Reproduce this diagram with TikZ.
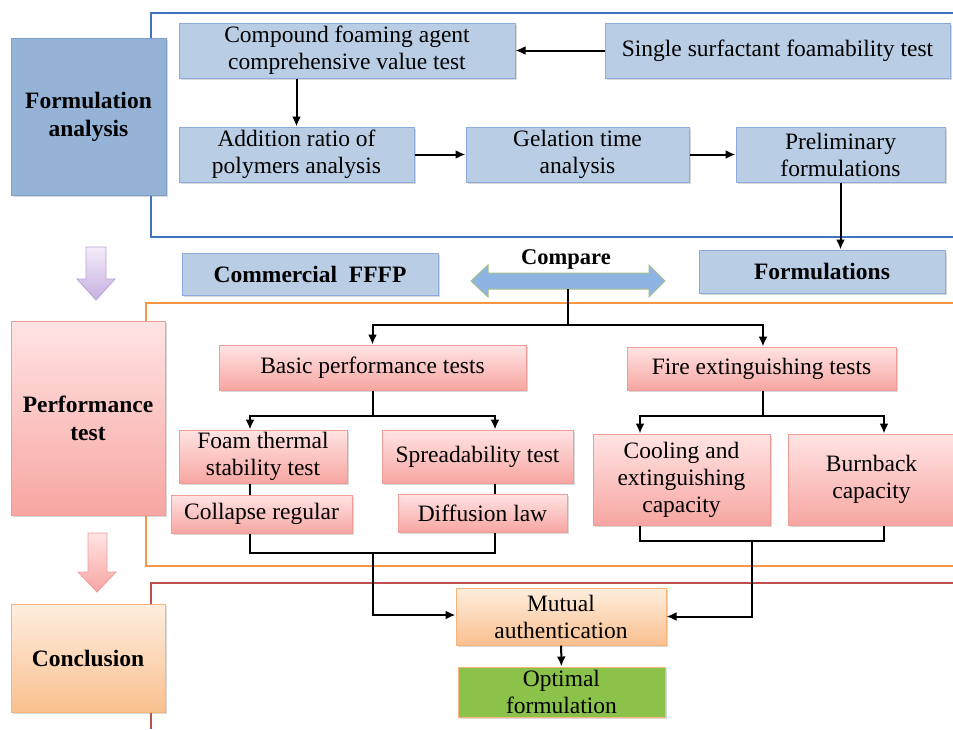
\documentclass[tikz,border=0pt]{standalone}
\usepackage{fontspec}
\setmainfont{Liberation Serif}
\newfontfamily\tnr{Liberation Serif}
\usetikzlibrary{arrows.meta,shadows}

\definecolor{boxblue}{HTML}{B9CDE5}
\definecolor{boxline}{HTML}{8EAADB}
\definecolor{stageblue}{HTML}{95B3D7}
\definecolor{stageline}{HTML}{7F9FCB}
\definecolor{pinktop}{HTML}{FFE4E3}
\definecolor{pinkbot}{HTML}{F7A6A2}
\definecolor{pinkline}{HTML}{EE9D99}
\definecolor{orangetop}{HTML}{FEEEDF}
\definecolor{orangebot}{HTML}{FAC08F}
\definecolor{orangeline}{HTML}{F7B57C}
\definecolor{optgreen}{HTML}{8AC24A}
\definecolor{frameblue}{HTML}{3F74C2}
\definecolor{frameorange}{HTML}{F79646}
\definecolor{framered}{HTML}{C0504D}
\definecolor{cmpfill}{HTML}{8DB4E2}
\definecolor{cmpline}{HTML}{A6BF88}
\definecolor{lilactop}{HTML}{F5ECFA}
\definecolor{lilacbot}{HTML}{C6B0E0}
\definecolor{lilacline}{HTML}{B8A2D6}

\begin{document}
\begin{tikzpicture}[x=1pt, y=-1pt]
    \tikzstyle{every node}=[align=center, inner sep=0pt, font=\tnr\fontsize{23.5}{27}\selectfont]
    \tikzstyle{shdw}=[drop shadow={shadow xshift=1.5pt, shadow yshift=-1.5pt, opacity=0.3}]
    \tikzstyle{bluebox}=[draw=boxline, fill=boxblue, line width=1pt, shdw]
    \tikzstyle{pinkbox}=[draw=pinkline, top color=pinktop, bottom color=pinkbot, line width=1pt, shdw]
    \tikzstyle{orangebox}=[draw=orangeline, top color=orangetop, bottom color=orangebot, line width=1pt, shdw]
    \tikzstyle{stage}=[font=\tnr\fontsize{23.5}{28}\selectfont\bfseries]
    \tikzstyle{arr}=[-{Latex[length=10pt,width=9pt]}, line width=2pt]
    \tikzstyle{ln}=[line width=2pt]
    \useasboundingbox (0,0) rectangle (953,729);

    % stage frames
    \draw[frameblue, line width=2.5pt] (953,13) -- (151,13) -- (151,237) -- (953,237);
    \draw[frameorange, line width=2pt] (953,303) -- (146,303) -- (146,566) -- (953,566);
    \draw[framered, line width=2pt] (953,583) -- (151,583) -- (151,729);

    % left column
    \node[stage, draw=stageline, fill=stageblue, line width=1pt, shdw, minimum width=155pt, minimum height=157pt] (fa) at (88.5,116.5) {Formulation\\analysis};
    \node[stage, pinkbox, minimum width=154pt, minimum height=194pt] (pt) at (88,418) {Performance\\test};
    \node[stage, orangebox, minimum width=154pt, minimum height=108pt] (cc) at (88,658) {Conclusion};
    \shade[top color=lilactop, bottom color=lilacbot, draw=lilacline, line width=0.8pt] (86,247) -- (106,247) -- (106,279) -- (115,279) -- (96,300) -- (77,279) -- (86,279) -- cycle;
    \shade[top color=pinktop, bottom color=pinkbot, draw=pinkline, line width=0.8pt] (88,533) -- (107,533) -- (107,572) -- (116,572) -- (97,592) -- (78,572) -- (88,572) -- cycle;

    % formulation analysis
    \node[bluebox, minimum width=336pt, minimum height=55pt] (cfa) at (347,50.5) {Compound foaming agent\\comprehensive value test};
    \node[bluebox, minimum width=345pt, minimum height=55pt] (ssf) at (777.5,50.5) {Single surfactant foamability test};
    \node[bluebox, minimum width=235pt, minimum height=55pt] (arp) at (296.5,154.5) {Addition ratio of\\polymers analysis};
    \node[bluebox, minimum width=223pt, minimum height=55pt] (gta) at (577.5,154.5) {Gelation time\\analysis};
    \node[bluebox, minimum width=209pt, minimum height=55pt] (pf) at (840.5,154.5) {Preliminary\\formulations};
    \node[bluebox, stage, minimum width=246pt, minimum height=43pt] (form) at (822,271.5) {Formulations};
    \node[bluebox, stage, minimum width=256pt, minimum height=42pt] (cffp) at (310,274) {Commercial\ \ FFFP};

    % compare arrow
    \filldraw[fill=cmpfill, draw=cmpline, line width=1pt] (471,281) -- (488,265) -- (488,273) -- (649,273) -- (649,265) -- (665,281) -- (649,297) -- (649,289) -- (488,289) -- (488,297) -- cycle;
    \node[stage, font=\tnr\fontsize{22.5}{26}\selectfont\bfseries] (cmpl) at (566,259) {Compare};
    \coordinate (cmp) at (568,289);
    \coordinate (fk) at (568,325);

    % performance test
    \node[pinkbox, minimum width=307pt, minimum height=45pt] (bpt) at (372.5,367.5) {Basic performance tests};
    \node[pinkbox, minimum width=269pt, minimum height=43pt] (fet) at (761.5,368.5) {Fire extinguishing tests};
    \node[pinkbox, minimum width=168pt, minimum height=53pt] (fts) at (263,456.5) {Foam thermal\\stability test};
    \node[pinkbox, minimum width=191pt, minimum height=53pt] (spr) at (477.5,456.5) {Spreadability test};
    \node[pinkbox, minimum width=181pt, minimum height=38pt] (clr) at (261.5,514) {Collapse regular};
    \node[pinkbox, minimum width=169pt, minimum height=38pt] (dfl) at (482.5,513) {Diffusion law};
    \node[pinkbox, minimum width=177pt, minimum height=91pt] (cec) at (681.5,479.5) {Cooling and\\extinguishing\\capacity};
    \node[pinkbox, minimum width=167pt, minimum height=91pt] (bbc) at (871.5,479.5) {Burnback\\capacity};

    % conclusion
    \node[orangebox, minimum width=210pt, minimum height=57pt] (mau) at (561,616.5) {Mutual\\authentication};
    \node[draw=orangeline, fill=optgreen, line width=1pt, shdw, minimum width=207pt, minimum height=50pt] (opt) at (561.5,692) {Optimal\\formulation};

    % connectors
    \draw[arr] (ssf) -- (cfa);
    \draw[arr] (arp|-cfa.south) -- (arp.north);
    \draw[arr] (arp) -- (gta);
    \draw[arr] (gta) -- (pf);
    \draw[arr] (pf.south) -- (pf.south|-form.north);
    \draw[ln] (cmp) -- (fk);
    \draw[arr] (fk) -| (bpt.north);
    \draw[arr] (fk) -| ([xshift=1.5pt]fet.north);
    \draw[arr] (bpt.south) -- ++(0,25) -| ([xshift=-13pt]fts.north);
    \draw[arr] (bpt.south) -- ++(0,25) -| ([xshift=17.5pt]spr.north);
    \draw[ln] ([xshift=-13pt]fts.south) -- ([xshift=-11.5pt]clr.north);
    \draw[ln] ([xshift=17.5pt]spr.south) -- ([xshift=12.5pt]dfl.north);
    \draw[ln] ([xshift=-11.5pt]clr.south) |- (373,553) -| ([xshift=12.5pt]dfl.south);
    \draw[arr] (373,553) -- (373,615) -- (mau.west|-373,615);
    \draw[arr] ([xshift=1.5pt]fet.south) -- ++(0,25) -| ([xshift=-41.5pt]cec.north);
    \draw[arr] ([xshift=1.5pt]fet.south) -- ++(0,25) -| ([xshift=12.5pt]bbc.north);
    \draw[ln] ([xshift=-41.5pt]cec.south) |- (752,541) -| ([xshift=12.5pt]bbc.south);
    \draw[arr] (752,541) |- (mau.east);
    \draw[arr] (mau) -- (opt);
\end{tikzpicture}
\end{document}
